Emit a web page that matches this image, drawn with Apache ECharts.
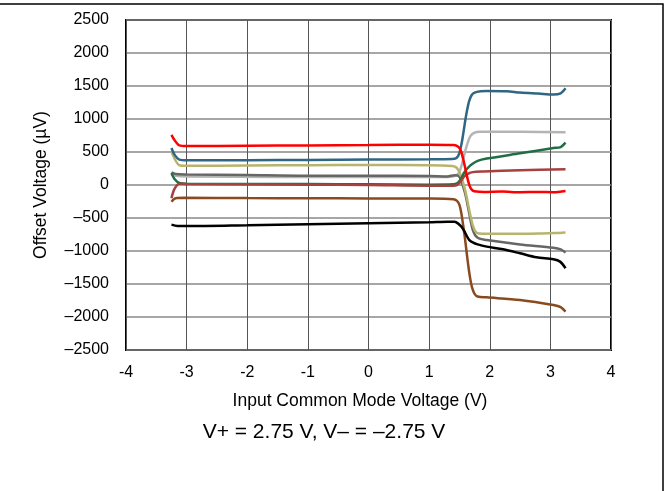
<!DOCTYPE html>
<html>
<head>
<meta charset="utf-8">
<script src="https://cdn.jsdelivr.net/npm/echarts@6/dist/echarts.min.js"></script>
<style>
  html, body { margin: 0; padding: 0; background: #fff; }
  #chart { width: 669px; height: 491px; }
</style>
</head>
<body>
<div id="chart"></div>
<script>
// Offset voltage vs. input common-mode voltage, one curve per unit (x in V, y in µV)
const xTicks = [-4, -3, -2, -1, 0, 1, 2, 3, 4];
const yTicks = [-2500, -2000, -1500, -1000, -500, 0, 500, 1000, 1500, 2000, 2500];

const unitRed = [[-3.25,760],[-3.2,680],[-3.12,600],[-3.0,590],[-2,595],[-1,600],[0,605],[1,610],[1.4,605],[1.45,595],[1.5,560],[1.53,500],[1.56,400],[1.59,280],[1.62,150],[1.65,40],[1.68,-40],[1.72,-85],[1.78,-100],[1.9,-105],[2.2,-100],[2.5,-110],[2.8,-105],[3.05,-110],[3.25,-90]];
const unitBlue = [[-3.25,560],[-3.2,460],[-3.12,385],[-3.0,375],[-2,375],[-1,380],[0,385],[1,390],[1.38,395],[1.44,405],[1.48,440],[1.51,520],[1.54,650],[1.57,820],[1.6,1000],[1.63,1150],[1.66,1270],[1.7,1360],[1.75,1400],[1.85,1420],[1.95,1425],[2.28,1420],[2.5,1400],[2.8,1385],[3.05,1372],[3.17,1390],[3.25,1465]];
const unitKhaki = [[-3.25,505],[-3.2,400],[-3.12,300],[-3.0,292],[-2,295],[-1,300],[0,303],[1,300],[1.38,288],[1.44,270],[1.48,230],[1.52,150],[1.56,40],[1.6,-100],[1.64,-280],[1.68,-460],[1.72,-610],[1.76,-700],[1.82,-735],[2.2,-740],[2.8,-735],[3.25,-720]];
const unitLightGray = [[-3.25,160],[-3.18,140],[-3.0,130],[0,120],[1.3,120],[1.42,135],[1.48,170],[1.52,250],[1.56,380],[1.6,530],[1.64,650],[1.68,740],[1.74,790],[1.84,808],[2.5,805],[3.25,798]];
const unitDarkGray = [[-3.25,190],[-3.18,165],[-3.0,160],[-2,150],[-1,140],[0,140],[1,135],[1.3,130],[1.42,148],[1.48,140],[1.52,90],[1.56,-20],[1.6,-150],[1.64,-330],[1.68,-520],[1.72,-680],[1.76,-760],[1.82,-810],[1.95,-835],[2.5,-900],[3.05,-950],[3.17,-975],[3.25,-1025]];
const unitGreen = [[-3.25,180],[-3.2,90],[-3.12,30],[-3,20],[-1,15],[0,10],[1,5],[1.4,10],[1.46,25],[1.5,60],[1.54,120],[1.58,190],[1.63,250],[1.7,310],[1.8,365],[1.95,400],[2.5,480],[3.05,560],[3.17,575],[3.25,641]];
const unitDarkRed = [[-3.25,-200],[-3.2,-60],[-3.12,20],[-3,15],[-1,5],[0,0],[1,-10],[1.4,-10],[1.46,0],[1.5,30],[1.54,80],[1.58,130],[1.64,170],[1.72,195],[1.9,205],[2.5,225],[3.25,237]];
const unitBrown = [[-3.25,-253],[-3.18,-200],[-3.05,-195],[-2,-198],[-1,-200],[0,-203],[1,-205],[1.4,-215],[1.46,-240],[1.5,-300],[1.53,-420],[1.56,-600],[1.59,-800],[1.62,-1030],[1.65,-1250],[1.68,-1430],[1.71,-1560],[1.75,-1650],[1.8,-1690],[1.95,-1702],[2.5,-1742],[3.05,-1818],[3.17,-1850],[3.25,-1919]];
const unitBlack = [[-3.25,-600],[-3.15,-620],[-3,-622],[-2,-610],[-1,-595],[0,-580],[1,-565],[1.3,-555],[1.42,-558],[1.48,-585],[1.53,-630],[1.58,-700],[1.62,-770],[1.66,-830],[1.72,-870],[1.8,-900],[1.95,-934],[2.22,-975],[2.5,-1035],[2.77,-1096],[3.05,-1126],[3.16,-1161],[3.25,-1262]];

const curves = [
  { data: unitLightGray, color: '#b4b4b4' },
  { data: unitDarkGray, color: '#666666' },
  { data: unitKhaki, color: '#b8b46e' },
  { data: unitGreen, color: '#1f6e45' },
  { data: unitDarkRed, color: '#a5413f' },
  { data: unitBrown, color: '#8b4a1e' },
  { data: unitBlack, color: '#000000' },
  { data: unitBlue, color: '#2f6684' },
  { data: unitRed, color: '#ff0000' }
];

const font = 'Liberation Sans, Arial, sans-serif';
const chart = echarts.init(document.getElementById('chart'), null, { renderer: 'canvas' });

chart.setOption({
  animation: false,
  backgroundColor: '#fff',
  grid: {
    left: 126, right: 58, top: 20, bottom: 141,
    show: true, borderColor: '#000', borderWidth: 2, backgroundColor: 'transparent'
  },
  xAxis: {
    type: 'value',
    min: xTicks[0], max: xTicks[xTicks.length - 1], interval: 1,
    axisLine: { show: false },
    axisTick: { show: false },
    axisLabel: { color: '#000', fontFamily: font, fontSize: 16, margin: 15 },
    splitLine: { show: true, lineStyle: { color: '#555', width: 1 } }
  },
  yAxis: {
    type: 'value',
    min: yTicks[0], max: yTicks[yTicks.length - 1], interval: 500,
    axisLine: { show: false },
    axisTick: { show: false },
    axisLabel: {
      color: '#000', fontFamily: font, fontSize: 16, margin: 17,
      formatter: v => String(v).replace('-', '\u2013')
    },
    splitLine: { show: true, lineStyle: { color: '#888', width: 1.5 } }
  },
  series: curves.map(c => ({
    type: 'line',
    data: c.data,
    smooth: 0.3,
    showSymbol: false,
    lineStyle: { color: c.color, width: 2.5 },
    itemStyle: { color: c.color },
    z: 3
  })),
  graphic: [
    {
      type: 'rect',
      shape: { x: -10, y: 4, width: 673, height: 500 },
      style: { fill: 'none', stroke: '#000', lineWidth: 1.5 },
      silent: true
    },
    {
      type: 'text',
      x: 41, y: 185, rotation: Math.PI / 2,
      style: {
        text: 'Offset Voltage (\u00b5V)', fill: '#000',
        font: '17.5px ' + font, align: 'center', verticalAlign: 'middle'
      }
    },
    {
      type: 'text',
      x: 360, y: 401,
      style: {
        text: 'Input Common Mode Voltage (V)', fill: '#000',
        font: '17.5px ' + font, align: 'center', verticalAlign: 'middle'
      }
    },
    {
      type: 'text',
      x: 324, y: 432,
      style: {
        text: 'V+ = 2.75 V, V\u2013 = \u20132.75 V', fill: '#000',
        font: '21px ' + font, align: 'center', verticalAlign: 'middle'
      }
    }
  ]
});
</script>
</body>
</html>
